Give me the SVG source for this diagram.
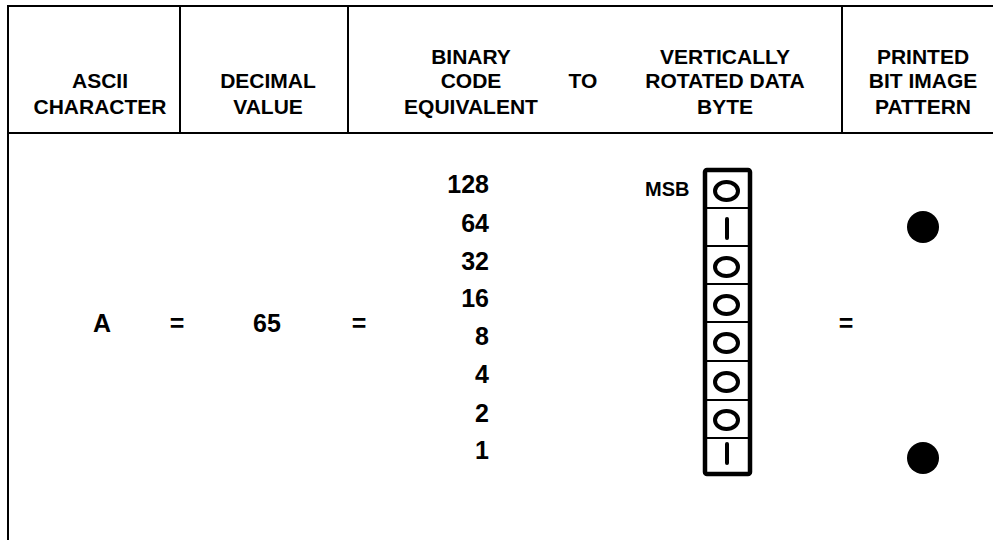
<svg xmlns="http://www.w3.org/2000/svg" width="993" height="540" viewBox="0 0 993 540">
<style>
text{font-family:"Liberation Sans",Arial,sans-serif;font-weight:bold;fill:#000}
.h{font-size:21px;text-anchor:middle}
.b{font-size:25px;text-anchor:middle}
.n{font-size:25px;text-anchor:end}
.rule{stroke:#000;stroke-width:2;fill:none}
.cell{stroke:#000;stroke-width:2;fill:none}
.o{stroke:#000;stroke-width:4;fill:none}
.i{stroke:#000;stroke-width:4;stroke-linecap:round}
</style>
<rect width="993" height="540" fill="#fff"/>
<g id="frame">
<line class="rule" x1="7" y1="6" x2="993" y2="6"/>
<line class="rule" x1="8" y1="5" x2="8" y2="540"/>
<line class="rule" x1="7" y1="133" x2="993" y2="133"/>
<line class="rule" x1="180" y1="6" x2="180" y2="133"/>
<line class="rule" x1="348" y1="6" x2="348" y2="133"/>
<line class="rule" x1="842" y1="6" x2="842" y2="133"/>
</g>
<g id="header">
<text class="h" x="100" y="88">ASCII</text>
<text class="h" x="100" y="114">CHARACTER</text>
<text class="h" x="268" y="88">DECIMAL</text>
<text class="h" x="268" y="114">VALUE</text>
<text class="h" x="471" y="64">BINARY</text>
<text class="h" x="471" y="88">CODE</text>
<text class="h" x="471" y="114">EQUIVALENT</text>
<text class="h" x="583" y="88">TO</text>
<text class="h" x="725" y="64">VERTICALLY</text>
<text class="h" x="725" y="88">ROTATED DATA</text>
<text class="h" x="725" y="114">BYTE</text>
<text class="h" x="923" y="64">PRINTED</text>
<text class="h" x="923" y="88">BIT IMAGE</text>
<text class="h" x="923" y="114">PATTERN</text>
</g>
<g id="equation">
<text class="b" x="102" y="332">A</text>
<text class="b" x="177" y="332">=</text>
<text class="b" x="267" y="332">65</text>
<text class="b" x="359" y="332">=</text>
<text class="b" x="846" y="332">=</text>
</g>
<g id="weights">
<text class="n" x="489" y="193">128</text>
<text class="n" x="489" y="232">64</text>
<text class="n" x="489" y="270">32</text>
<text class="n" x="489" y="307">16</text>
<text class="n" x="489" y="345">8</text>
<text class="n" x="489" y="383">4</text>
<text class="n" x="489" y="422">2</text>
<text class="n" x="489" y="459">1</text>
</g>
<g id="byte">
<text x="645" y="196" style="font-size:20px">MSB</text>
<line class="cell" x1="705" y1="208" x2="750" y2="208"/>
<line class="cell" x1="705" y1="246" x2="750" y2="246"/>
<line class="cell" x1="705" y1="284" x2="750" y2="284"/>
<line class="cell" x1="705" y1="322" x2="750" y2="322"/>
<line class="cell" x1="705" y1="361" x2="750" y2="361"/>
<line class="cell" x1="705" y1="400" x2="750" y2="400"/>
<line class="cell" x1="705" y1="438" x2="750" y2="438"/>
<rect x="705" y="170" width="45" height="304" rx="2" stroke="#000" stroke-width="4.5" fill="none"/>
<ellipse class="o" cx="726.5" cy="191" rx="11.5" ry="9"/>
<line class="i" x1="727" y1="219" x2="727" y2="238"/>
<ellipse class="o" cx="726.5" cy="267" rx="11.5" ry="9"/>
<ellipse class="o" cx="726.5" cy="305" rx="11.5" ry="9"/>
<ellipse class="o" cx="726.5" cy="343" rx="11.5" ry="9"/>
<ellipse class="o" cx="726.5" cy="382" rx="11.5" ry="9"/>
<ellipse class="o" cx="726.5" cy="420" rx="11.5" ry="9"/>
<line class="i" x1="727" y1="444" x2="727" y2="463"/>
</g>
<g id="pattern">
<circle cx="923" cy="227" r="16" fill="#000"/>
<circle cx="923" cy="458" r="16" fill="#000"/>
</g>
</svg>
